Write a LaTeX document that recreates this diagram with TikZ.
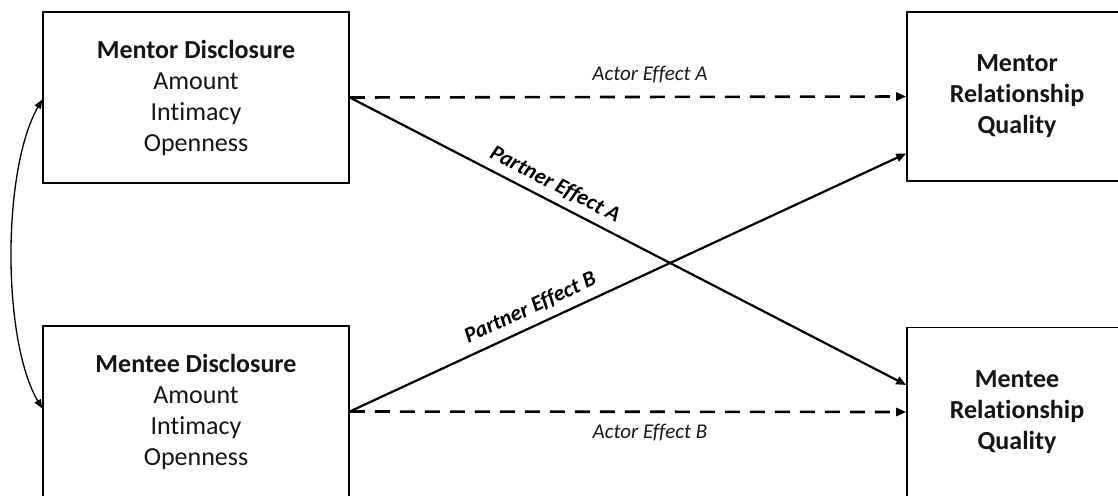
\documentclass[tikz,border=0pt]{standalone}
\usepackage{fontspec}
\setmainfont{Carlito}[Ligatures=NoCommon]
\usetikzlibrary{arrows.meta,calc}
\begin{document}
\begin{tikzpicture}[x=1pt,y=-1pt,
  box/.style={draw=black,line width=1.6pt,rectangle,align=center,inner sep=0pt,
    font=\fontsize{26}{31}\selectfont,text=black!92},
  tip/.style={-{Triangle[length=10pt,width=8pt]}},
  actor/.style={tip,line width=2.6pt,dash pattern=on 15pt off 10pt},
  partner/.style={tip,line width=2.2pt},
  efflab/.style={font=\fontsize{21}{24}\selectfont\itshape,text=black!90},
  plab/.style={font=\fontsize{22}{24}\selectfont\bfseries\itshape,text=black,sloped,inner sep=1pt}]
\useasboundingbox (0,0) rectangle (1118,495);
\node[box,minimum width=306pt,minimum height=171pt] (md) at (196,97.5)
  {\textbf{Mentor Disclosure}\\Amount\\Intimacy\\Openness};
\node[box,minimum width=306pt,minimum height=171pt] (ed) at (196,411.5)
  {\textbf{Mentee Disclosure}\\Amount\\Intimacy\\Openness};
\node[box,minimum width=220pt,minimum height=169pt] (mq) at (1017,96.5)
  {\textbf{Mentor}\\\textbf{Relationship}\\\textbf{Quality}};
\node[box,minimum width=220pt,minimum height=169pt] (eq) at (1017,412)
  {\textbf{Mentee}\\\textbf{Relationship}\\\textbf{Quality}};
\draw[actor] (md.east) -- (mq.west);
\draw[actor] (ed.east) -- (eq.west);
\draw[partner] (md.east) -- node[plab,pos=0.355,above=6pt]{Partner Effect A} ([yshift=27pt]eq.west);
\draw[partner] (ed.east) -- node[plab,pos=0.338,above=7pt]{Partner Effect B} ([yshift=-57pt]mq.west);
\node[efflab] (la) at (650,75) {Actor Effect A};
\node[efflab] (lb) at (650,433) {Actor Effect B};
\draw[{Triangle[length=9pt,width=7pt]}-{Triangle[length=9pt,width=7pt]},line width=1.3pt]
  ([yshift=-2pt]md.west) .. controls (2,170) and (2,340) .. ([yshift=3pt]ed.west);
\end{tikzpicture}
\end{document}
